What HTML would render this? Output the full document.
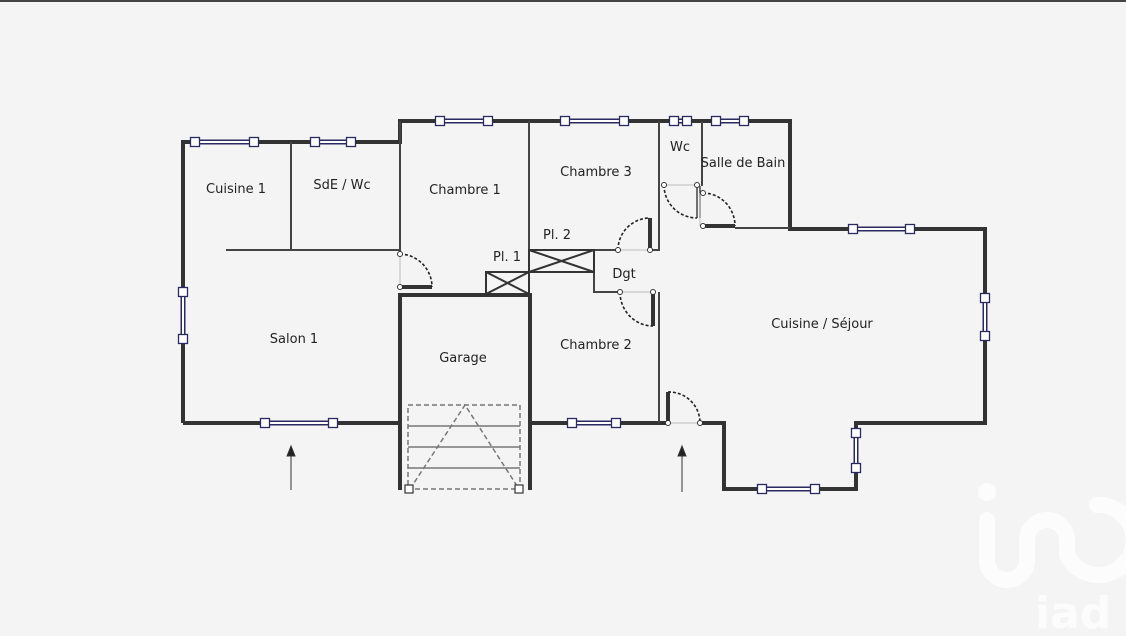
<!DOCTYPE html>
<html><head><meta charset="utf-8"><style>
html,body{margin:0;padding:0;background:#f4f4f4;}
svg{display:block}
text{font-family:"DejaVu Sans","Liberation Sans",sans-serif;font-size:13px;fill:#222}
</style></head><body>
<svg width="1126" height="636" viewBox="0 0 1126 636" xmlns="http://www.w3.org/2000/svg">
<rect x="0" y="0" width="1126" height="636" fill="#f4f4f4"/>
<rect x="0" y="0" width="1126" height="2" fill="#444"/>
<!-- watermark -->
<g opacity="0.75">
<g fill="none" stroke="#fff" stroke-width="16" stroke-linecap="round">
<path d="M987 520 V560 a20 20 0 0 0 40 0 V540 a20 20 0 0 1 40 0 V555 a35 35 0 1 0 30 -50"/>
</g>
<circle cx="987" cy="492" r="9" fill="#fff"/>
<text x="1035" y="628" style="font-size:44px;font-weight:bold;fill:#fff">iad</text>
</g>

<!-- outer thick walls -->
<g fill="none" stroke="#333" stroke-width="4" stroke-linejoin="miter">
<path d="M183 423 V142 H400 V121 H790 V229 H985 V423 H856 V489 H724 V423 H700"/>
<path d="M666 423 H530"/>
<path d="M400 423 H183"/>
<path d="M400 490 V295 H530 V490"/>
<path d="M400 287 H432"/>
<path d="M650 250 V218"/>
<path d="M653 292 V326"/>
<path d="M703 226 H735"/>
<path d="M668 423 V392"/>
</g>
<!-- thin walls -->
<g fill="none" stroke="#444" stroke-width="2">
<path d="M291 142 V250"/>
<path d="M226 250 H400"/>
<path d="M400 121 V252"/>
<path d="M529 121 V295"/>
<path d="M659 121 V250 H650"/>
<path d="M659 292 V423"/>
<path d="M702 121 V186"/>
<path d="M735 228 H790"/>
<path d="M594 250 H618"/>
<path d="M594 250 V292 H620"/>
<path d="M697 186 V218 M700 186 V218" stroke-width="1.5"/>
</g>
<g stroke="#bbb" stroke-width="1" fill="none">
<path d="M400 254 V287"/><path d="M618 250 H650"/><path d="M620 292 H653"/><path d="M664 185 H697"/><path d="M668 423 H700"/><path d="M700 193 V226"/>
</g>
<g fill="none" stroke="#222" stroke-width="1.6" stroke-dasharray="3,2">
<path d="M400 254 A33 33 0 0 1 432 287"/>
<path d="M618 250 A32 32 0 0 1 650 218"/>
<path d="M620 292 A33 34 0 0 0 653 326"/>
<path d="M664 185 A33 33 0 0 0 697 218"/>
<path d="M703 193 A32 33 0 0 1 735 226"/>
<path d="M668 392 A31 31 0 0 1 700 423"/>
</g>
<g fill="#fff" stroke="#333" stroke-width="1">
<circle cx="400" cy="254" r="2.5"/><circle cx="400" cy="287" r="2.5"/>
<circle cx="618" cy="250" r="2.5"/><circle cx="650" cy="250" r="2.5"/>
<circle cx="620" cy="292" r="2.5"/><circle cx="653" cy="292" r="2.5"/>
<circle cx="664" cy="185" r="2.5"/><circle cx="697" cy="185" r="2.5"/>
<circle cx="703" cy="193" r="2.5"/><circle cx="703" cy="226" r="2.5"/>
<circle cx="668" cy="423" r="2.5"/><circle cx="700" cy="423" r="2.5"/>
</g>
<g fill="none" stroke="#333" stroke-width="2">
<rect x="529" y="250" width="65" height="22"/><path d="M529 250 L594 272 M529 272 L594 250"/>
<rect x="486" y="272" width="43" height="22"/><path d="M486 272 L529 294 M486 294 L529 272"/>
</g>
<g fill="none" stroke="#777" stroke-width="1.5">
<rect x="408" y="405" width="112" height="84" stroke-dasharray="5,3"/>
<path d="M408 426 H520 M408 447 H520 M408 468 H520"/>
<path d="M410 489 L465 405 L519 489" stroke-dasharray="5,3"/>
</g>
<g fill="#fff" stroke="#333" stroke-width="1.2">
<rect x="405" y="485" width="8" height="8"/><rect x="515" y="485" width="8" height="8"/>
</g>
<g stroke="#2a2a60" stroke-width="5" fill="none">
<path d="M195 142 H254 M315 142 H351 M440 121 H488 M565 121 H624 M674 121 H687 M716 121 H744 M853 229 H910 M265 423 H333 M572 423 H616 M762 489 H815 M985 298 V336 M856 433 V468 M183 292 V339"/>
</g>
<g stroke="#fff" stroke-width="2" fill="none">
<path d="M195 142 H254 M315 142 H351 M440 121 H488 M565 121 H624 M674 121 H687 M716 121 H744 M853 229 H910 M265 423 H333 M572 423 H616 M762 489 H815 M985 298 V336 M856 433 V468 M183 292 V339"/>
</g>
<g fill="#fff" stroke="#2a2a60" stroke-width="1.3">
<rect x="190.5" y="137.5" width="9" height="9"/><rect x="249.5" y="137.5" width="9" height="9"/>
<rect x="310.5" y="137.5" width="9" height="9"/><rect x="346.5" y="137.5" width="9" height="9"/>
<rect x="435.5" y="116.5" width="9" height="9"/><rect x="483.5" y="116.5" width="9" height="9"/>
<rect x="560.5" y="116.5" width="9" height="9"/><rect x="619.5" y="116.5" width="9" height="9"/>
<rect x="669.5" y="116.5" width="9" height="9"/><rect x="682.5" y="116.5" width="9" height="9"/>
<rect x="711.5" y="116.5" width="9" height="9"/><rect x="739.5" y="116.5" width="9" height="9"/>
<rect x="848.5" y="224.5" width="9" height="9"/><rect x="905.5" y="224.5" width="9" height="9"/>
<rect x="260.5" y="418.5" width="9" height="9"/><rect x="328.5" y="418.5" width="9" height="9"/>
<rect x="567.5" y="418.5" width="9" height="9"/><rect x="611.5" y="418.5" width="9" height="9"/>
<rect x="757.5" y="484.5" width="9" height="9"/><rect x="810.5" y="484.5" width="9" height="9"/>
<rect x="980.5" y="293.5" width="9" height="9"/><rect x="980.5" y="331.5" width="9" height="9"/>
<rect x="851.5" y="428.5" width="9" height="9"/><rect x="851.5" y="463.5" width="9" height="9"/>
<rect x="178.5" y="287.5" width="9" height="9"/><rect x="178.5" y="334.5" width="9" height="9"/>
</g>
<g stroke="#333" stroke-width="1" fill="#222">
<path d="M291 490 V452"/><path d="M287 456 L291 446 L295 456 Z"/>
<path d="M682 492 V452"/><path d="M678 456 L682 446 L686 456 Z"/>
</g>
<text x="236" y="193" text-anchor="middle">Cuisine 1</text>
<text x="342" y="189" text-anchor="middle">SdE / Wc</text>
<text x="465" y="194" text-anchor="middle">Chambre 1</text>
<text x="596" y="176" text-anchor="middle">Chambre 3</text>
<text x="680" y="151" text-anchor="middle">Wc</text>
<text x="743" y="167" text-anchor="middle">Salle de Bain</text>
<text x="557" y="239" text-anchor="middle">Pl. 2</text>
<text x="507" y="261" text-anchor="middle">Pl. 1</text>
<text x="624" y="278" text-anchor="middle">Dgt</text>
<text x="294" y="343" text-anchor="middle">Salon 1</text>
<text x="463" y="362" text-anchor="middle">Garage</text>
<text x="596" y="349" text-anchor="middle">Chambre 2</text>
<text x="822" y="328" text-anchor="middle">Cuisine / Séjour</text>
</svg>
</body></html>
